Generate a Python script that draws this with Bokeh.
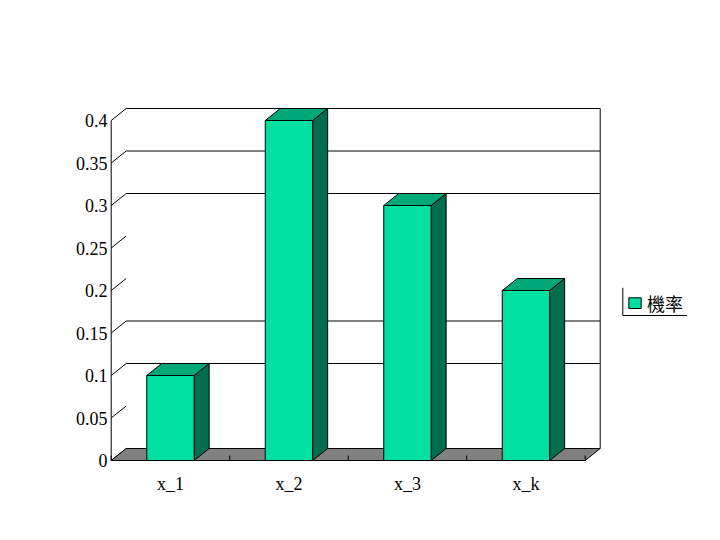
from bokeh.plotting import figure
from bokeh.models import Range1d, LinearAxis, FixedTicker
from bokeh.embed import file_html
from bokeh.resources import INLINE
from bokeh.core.properties import value

# ---------------- data ----------------
categories = ["x_1", "x_2", "x_3", "x_k"]
probabilities = [0.1, 0.4, 0.3, 0.2]
y_ticks = [0, 0.05, 0.1, 0.15, 0.2, 0.25, 0.3, 0.35, 0.4]
y_tick_labels = ["0", "0.05", "0.1", "0.15", "0.2", "0.25", "0.3", "0.35", "0.4"]
wall_grid = [0.1, 0.15, 0.3, 0.35, 0.4]
series_name = "機率"

# ---------------- layout (pixels) ----------------
W, H = 704, 524
X0_PX = 110.7      # front-left corner of the plot box
CAT_PX = 118.5     # width of one category
Y0_PX = 460.0      # front floor line (value 0)
UNIT_PX = 850.0    # pixels per 1.0 of value
FRAME_L, FRAME_R, FRAME_T, FRAME_B = 109, W, 0, 462


def dx(px):
    return (px - X0_PX) / CAT_PX - 0.5


def dy(py):
    return (Y0_PX - py) / UNIT_PX


DEPTH_X = 15 / CAT_PX
DEPTH_Y = 12 / UNIT_PX
HALF = 0.2
n = len(categories)
x_lo, x_hi = -0.5, n - 0.5
y_top = max(y_ticks)

FRONT = "#00E0A0"
TOP = "#00A878"
SIDE = "#006E4E"
FLOOR = "#808080"
SERIF = "Liberation Serif"

p = figure(width=W, height=H,
           x_range=Range1d(dx(FRAME_L), dx(FRAME_R)),
           y_range=Range1d(dy(FRAME_B), dy(FRAME_T)),
           output_backend="svg", toolbar_location=None,
           x_axis_type=None, y_axis_type=None,
           min_border_left=FRAME_L, min_border_right=0,
           min_border_top=0, min_border_bottom=H - FRAME_B)
p.outline_line_color = None
p.background_fill_color = "white"
p.border_fill_color = "white"

# axes (front plane)
yaxis = LinearAxis(ticker=FixedTicker(ticks=y_ticks, minor_ticks=[]),
                   major_label_overrides={t: l for t, l in zip(y_ticks, y_tick_labels)})
xaxis = LinearAxis(ticker=FixedTicker(ticks=list(range(n)), minor_ticks=[]),
                   major_label_overrides={i: c for i, c in enumerate(categories)})
for ax in (yaxis, xaxis):
    ax.axis_line_color = None
    ax.major_tick_line_color = None
    ax.minor_tick_line_color = None
    ax.major_tick_in = 0
    ax.major_tick_out = 0
    ax.major_label_text_font = SERIF
    ax.major_label_text_font_size = "18px"
    ax.major_label_text_color = "black"
yaxis.major_label_standoff = 2
xaxis.major_label_standoff = 11
p.add_layout(yaxis, "left")
p.add_layout(xaxis, "below")

# back wall gridlines and right edge
p.segment(x0=[x_lo + DEPTH_X] * len(wall_grid), y0=[g + DEPTH_Y for g in wall_grid],
          x1=[x_hi + DEPTH_X] * len(wall_grid), y1=[g + DEPTH_Y for g in wall_grid],
          line_color="black", line_width=1)
p.segment(x0=[x_hi + DEPTH_X], y0=[DEPTH_Y], x1=[x_hi + DEPTH_X], y1=[y_top + DEPTH_Y],
          line_color="black", line_width=1)

# left wall diagonal ticks
p.segment(x0=[x_lo] * len(y_ticks), y0=y_ticks,
          x1=[x_lo + DEPTH_X] * len(y_ticks), y1=[t + DEPTH_Y for t in y_ticks],
          line_color="black", line_width=1)
# front vertical axis line
p.segment(x0=[x_lo], y0=[0], x1=[x_lo], y1=[y_top], line_color="black", line_width=1)

# floor
p.patch(x=[x_lo, x_hi, x_hi + DEPTH_X, x_lo + DEPTH_X], y=[0, 0, DEPTH_Y, DEPTH_Y],
        fill_color=FLOOR, line_color="black", line_width=1)
bounds = [x_lo + k for k in range(n + 1)]
p.segment(x0=bounds, y0=[0] * len(bounds), x1=bounds, y1=[5 / UNIT_PX] * len(bounds),
          line_color="black", line_width=1)

# bars
xs = list(range(n))
side_xs = [[i + HALF, i + HALF + DEPTH_X, i + HALF + DEPTH_X, i + HALF] for i in xs]
side_ys = [[0, DEPTH_Y, v + DEPTH_Y, v] for v in probabilities]
top_xs = [[i - HALF, i - HALF + DEPTH_X, i + HALF + DEPTH_X, i + HALF] for i in xs]
top_ys = [[v, v + DEPTH_Y, v + DEPTH_Y, v] for v in probabilities]
p.patches(xs=side_xs, ys=side_ys, fill_color=SIDE, line_color="black", line_width=1)
p.patches(xs=top_xs, ys=top_ys, fill_color=TOP, line_color="black", line_width=1)
p.quad(left=[i - HALF for i in xs], right=[i + HALF for i in xs],
       bottom=[0] * n, top=probabilities,
       fill_color=FRONT, line_color="black", line_width=1)

# legend
p.segment(x0=[dx(622.3), dx(622.3)], y0=[dy(287.3), dy(315)],
          x1=[dx(622.3), dx(686.7)], y1=[dy(315), dy(315)],
          line_color="black", line_width=1)
p.quad(left=[dx(628.3)], right=[dx(640.7)], bottom=[dy(308)], top=[dy(297.3)],
       fill_color=FRONT, line_color="black", line_width=1)
p.text(x=[dx(646.5)], y=[dy(302.5)], text=[series_name],
       text_font=value("Noto Sans CJK TC"), text_font_size="18px",
       text_baseline="middle", text_align="left", text_color="black")

open("out.html", "w").write(file_html(p, INLINE))
